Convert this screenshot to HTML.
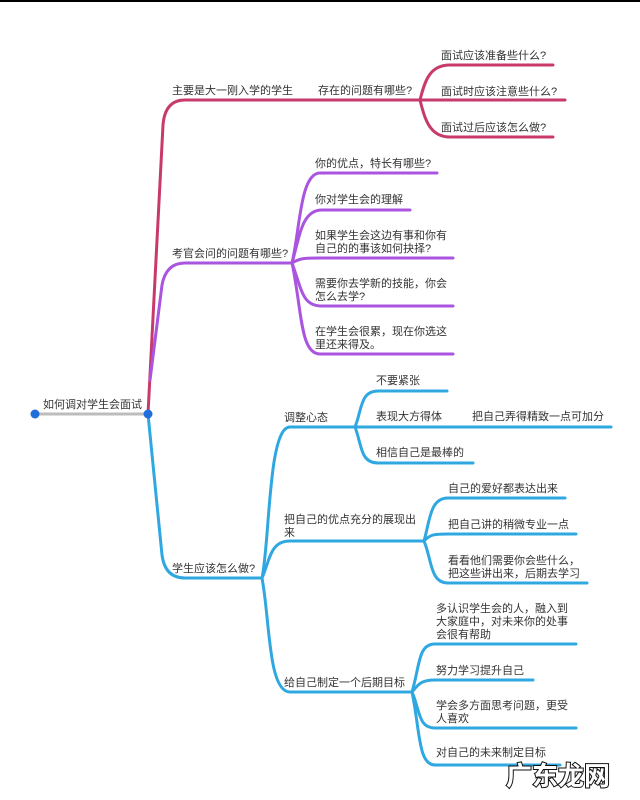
<!DOCTYPE html>
<html><head><meta charset="utf-8"><style>
html,body{margin:0;padding:0;background:#fff;}
svg{display:block}
text{font-family:"Liberation Sans","Noto Sans CJK SC",sans-serif;font-size:11px;fill:#333;}
</style></head><body>
<svg width="640" height="800" viewBox="0 0 640 800" xmlns="http://www.w3.org/2000/svg">
<rect x="0" y="0" width="640" height="2" fill="#000"/>
<g fill="none" stroke-width="3" stroke-linecap="round">
<!-- root -->
<line x1="35" y1="414" x2="148" y2="414" stroke="#bdbdbd"/>
<!-- red -->
<g stroke="#c83a6c">
<path d="M148 414 L163 125 Q165 100 185 100 H420"/>
<path d="M420 100 C425 80 430 65 450 65 H553"/>
<path d="M420 100 H565"/>
<path d="M420 100 C425 120 430 137 450 137 H553"/>
</g>
<!-- purple -->
<g stroke="#aa55e0">
<path d="M150 380 L162 285 Q166 263 185 263 H292"/>
<path d="M292 263 C300 230 300 173 320 173 H437"/>
<path d="M292 263 C300 235 302 210 322 210 H410"/>
<path d="M292 263 C300 258 305 258 320 258 H453"/>
<path d="M292 263 C302 290 302 306 322 306 H453"/>
<path d="M292 263 C302 310 300 354 320 354 H453"/>
</g>
<!-- blue -->
<g stroke="#2fa8e2">
<path d="M148 414 L162 555 Q165 578 185 578 H262"/>
<path d="M262 578 C270 540 268 427 290 427 H611"/>
<path d="M262 578 C270 560 270 541 290 541 H424"/>
<path d="M262 578 C270 620 268 692 290 692 H412"/>
<path d="M355 427 C362 410 360 391 378 391 H447"/>
<path d="M355 427 C362 445 360 463 378 463 H473"/>
<path d="M424 541 C430 520 430 498 448 498 H565"/>
<path d="M424 541 C430 535 432 534 448 534 H576"/>
<path d="M424 541 C432 560 430 583 448 583 H587"/>
<path d="M412 692 C420 665 418 644 435 644 H576"/>
<path d="M412 692 C418 685 420 680 435 680 H533"/>
<path d="M412 692 C420 710 418 728 435 728 H576"/>
<path d="M412 692 C420 730 418 765 435 765 H560"/>
</g>
</g>
<circle cx="35" cy="414" r="4.5" fill="#1e6fdc"/>
<circle cx="148" cy="414" r="4.5" fill="#1e6fdc"/>
<text x="43" y="408">如何调对学生会面试</text>
<text x="172" y="94">主要是大一刚入学的学生</text>
<text x="318" y="94">存在的问题有哪些?</text>
<text x="441" y="59">面试应该准备些什么?</text>
<text x="441" y="95">面试时应该注意些什么?</text>
<text x="441" y="131">面试过后应该怎么做?</text>
<text x="172" y="257">考官会问的问题有哪些?</text>
<text x="315" y="167">你的优点，特长有哪些?</text>
<text x="315" y="203">你对学生会的理解</text>
<text x="315" y="239">如果学生会这边有事和你有</text>
<text x="315" y="252">自己的的事该如何抉择?</text>
<text x="315" y="287">需要你去学新的技能，你会</text>
<text x="315" y="300">怎么去学?</text>
<text x="315" y="335">在学生会很累，现在你选这</text>
<text x="315" y="348">里还来得及。</text>
<text x="172" y="572">学生应该怎么做?</text>
<text x="284" y="421">调整心态</text>
<text x="376" y="384">不要紧张</text>
<text x="376" y="420">表现大方得体</text>
<text x="472" y="420">把自己弄得精致一点可加分</text>
<text x="376" y="456">相信自己是最棒的</text>
<text x="284" y="523">把自己的优点充分的展现出</text>
<text x="284" y="536">来</text>
<text x="448" y="492">自己的爱好都表达出来</text>
<text x="448" y="528">把自己讲的稍微专业一点</text>
<text x="448" y="564">看看他们需要你会些什么，</text>
<text x="448" y="577">把这些讲出来，后期去学习</text>
<text x="284" y="686">给自己制定一个后期目标</text>
<text x="436" y="612">多认识学生会的人，融入到</text>
<text x="436" y="625">大家庭中，对未来你的处事</text>
<text x="436" y="638">会很有帮助</text>
<text x="436" y="674">努力学习提升自己</text>
<text x="436" y="709">学会多方面思考问题，更受</text>
<text x="436" y="722">人喜欢</text>
<text x="436" y="756">对自己的未来制定目标</text>
<text x="506" y="785" style="font-size:26px;fill:#fff;stroke:#111;stroke-width:2px;paint-order:stroke;font-weight:bold">广东龙网</text>
</svg>
</body></html>
